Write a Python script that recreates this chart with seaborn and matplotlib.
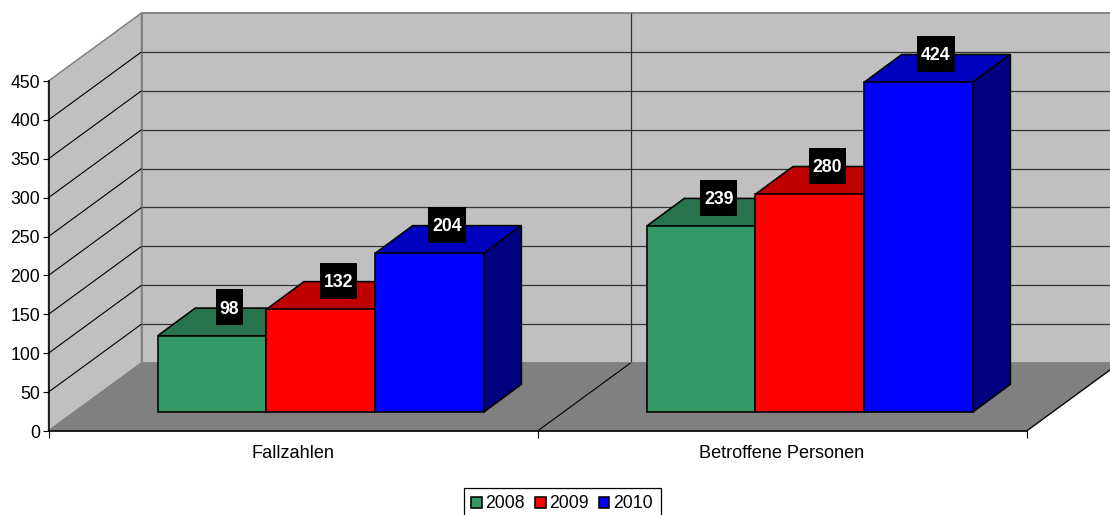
import matplotlib
matplotlib.use("Agg")
import matplotlib.pyplot as plt
from matplotlib.patches import Polygon, Rectangle
from matplotlib.transforms import IdentityTransform
import pandas as pd
import seaborn as sns

categories = ["Fallzahlen", "Betroffene Personen"]
years = ["2008", "2009", "2010"]
values_2008 = [98, 239]
values_2009 = [132, 280]
values_2010 = [204, 424]
y_ticks = [0, 50, 100, 150, 200, 250, 300, 350, 400, 450]

front_colors = ["#339966", "#FF0000", "#0000FF"]
top_colors = ["#26734D", "#BF0000", "#0000BF"]
side_colors = ["#1A4D33", "#800000", "#000080"]

W, H, DPI = 1110, 515, 100
sns.set_theme(style="white")
plt.rcParams["font.family"] = ["Liberation Sans", "DejaVu Sans"]
plt.rcParams["text.color"] = "black"
FS = 12.7

fig = plt.figure(figsize=(W / DPI, H / DPI), dpi=DPI, facecolor="white")


def px_axes(left, right, top, bottom, **kw):
    return fig.add_axes([left / W, 1 - bottom / H, (right - left) / W, (bottom - top) / H], **kw)


# Axes lying in the plane of the bar fronts
ax = px_axes(76.3, 1054.3, 62, 412, facecolor="none")
df = pd.DataFrame({
    "category": categories * 3,
    "year": [y for y in years for _ in categories],
    "value": values_2008 + values_2009 + values_2010,
})
sns.barplot(data=df, x="category", y="value", hue="year", hue_order=years, order=categories,
            palette=front_colors, saturation=1, width=0.667, gap=0, edgecolor="black",
            linewidth=1.15, ax=ax, zorder=3, clip_on=False)
ax.set_xlim(-0.5, 1.5)
ax.set_ylim(0, 450)
ax.axis("off")
handles, labels = ax.get_legend_handles_labels()
if ax.get_legend():
    ax.get_legend().remove()


def to_px(x, y, shift=(0, 0)):
    px, py = ax.transData.transform((x, y))
    return px + shift[0], py + shift[1]


# Oblique projection: display-pixel shifts out of the bar plane
I = IdentityTransform()
F, B = (-27.8, -19), (65.2, 49)
BAR_D = (37.5, 27.7)
x0, x1 = -0.5, 1.5
ymax = y_ticks[-1]
xmid = 0.5


def poly(points, **kw):
    p = Polygon(points, closed=True, transform=I, clip_on=False, **kw)
    ax.add_patch(p)
    return p


def line(a, b, color, lw, z=1.5):
    ax.plot([a[0], b[0]], [a[1], b[1]], color=color, lw=lw, transform=I, clip_on=False,
            zorder=z, solid_capstyle="butt")


# walls and floor
poly([to_px(x0, 0, B), to_px(x1, 0, B), to_px(x1, ymax, B), to_px(x0, ymax, B)],
     facecolor="#C0C0C0", edgecolor="#808080", lw=1.3, zorder=1)
poly([to_px(x0, 0, F), to_px(x0, 0, B), to_px(x0, ymax, B), to_px(x0, ymax, F)],
     facecolor="#C0C0C0", edgecolor="#808080", lw=1.1, zorder=1)
poly([to_px(x0, 0, F), to_px(x1, 0, F), to_px(x1, 0, B), to_px(x0, 0, B)],
     facecolor="#808080", edgecolor="#808080", lw=1, zorder=1.2)
for v in y_ticks[1:-1]:
    line(to_px(x0, v, F), to_px(x0, v, B), "#000000", 0.8)
    line(to_px(x0, v, B), to_px(x1, v, B), "#333333", 0.9, 1.1)
line(to_px(xmid, 0, B), to_px(xmid, ymax, B), "#333333", 0.9, 1.1)
line(to_px(xmid, 0, F), to_px(xmid, 0, B), "#000000", 0.8)
line(to_px(x1, 0, F), to_px(x1, 0, B), "#000000", 0.9)

# bar depth faces and value labels
renderer = fig.canvas.get_renderer()
for i, container in enumerate(ax.containers):
    for bar in container.patches:
        xl, xr, h = bar.get_x(), bar.get_x() + bar.get_width(), bar.get_height()
        poly([to_px(xl, h), to_px(xr, h), to_px(xr, h, BAR_D), to_px(xl, h, BAR_D)],
             facecolor=top_colors[i], edgecolor="black", lw=1.15, zorder=2 + i * 0.1)
        poly([to_px(xr, 0), to_px(xr, 0, BAR_D), to_px(xr, h, BAR_D), to_px(xr, h)],
             facecolor=side_colors[i], edgecolor="black", lw=1.15, zorder=2 + i * 0.1)
        cx, cy = to_px((xl + xr) / 2, h, (17.5, 28.6))
        t = ax.text(cx, cy, f"{h:.0f}", transform=I, color="white", fontweight="bold", fontsize=FS,
                    ha="center", va="center_baseline", zorder=6, clip_on=False)
        w = t.get_window_extent(renderer).width + 8
        ax.add_patch(Rectangle((cx - w / 2, cy - 18), w, 36, transform=I, facecolor="black",
                               edgecolor="none", zorder=5, clip_on=False))

# Real axes for the front plane: value scale, category ticks and labels
front = px_axes(48.5, 1026.5, 81, 431, facecolor="none")
front.set_xlim(x0, x1)
front.set_ylim(0, ymax)
for s in ("top", "right"):
    front.spines[s].set_visible(False)
for s in ("left", "bottom"):
    front.spines[s].set_color("black")
    front.spines[s].set_linewidth(1.1)
front.set_yticks(y_ticks)
front.set_yticklabels([str(v) for v in y_ticks], fontsize=FS, color="black")
front.set_xticks([x0, xmid, x1])
front.set_xticklabels([])
front.set_xticks([0, 1], minor=True)
front.set_xticklabels(categories, minor=True, fontsize=13.1, color="black")
front.tick_params(axis="y", which="major", length=4.5, width=0.8, color="black", pad=1.5, left=True)
front.tick_params(axis="x", which="major", length=5, width=0.8, color="black", bottom=True)
front.tick_params(axis="x", which="minor", length=0, pad=10)
front.grid(False)

# Legend
leg = fig.legend(handles, labels, loc="upper left", bbox_to_anchor=(463.5 / W, 1 - 487.5 / H), ncol=3,
                 frameon=True, fancybox=False, edgecolor="black", facecolor="white", framealpha=1,
                 fontsize=FS, labelcolor="black", handlelength=0.58, handleheight=0.58, handletextpad=0.2,
                 columnspacing=0.6, borderpad=0.45, borderaxespad=0)
leg.get_frame().set_linewidth(0.9)

fig.savefig("out.png", dpi=DPI, facecolor="white")
